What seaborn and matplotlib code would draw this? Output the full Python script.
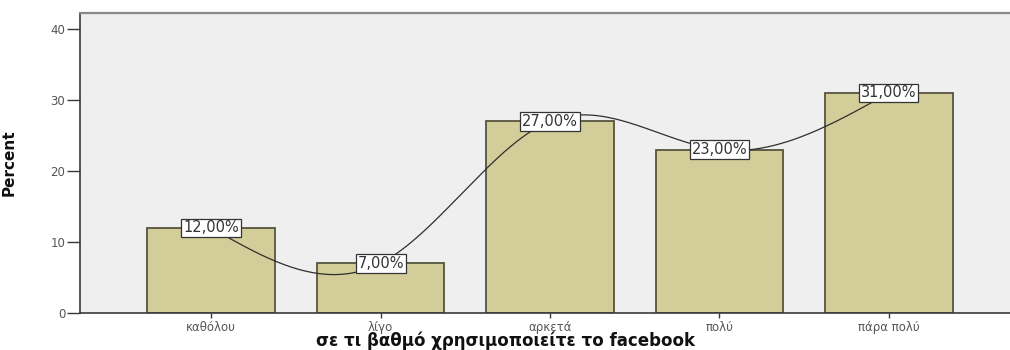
import numpy as np
import pandas as pd
import matplotlib
matplotlib.use("Agg")
import matplotlib.pyplot as plt
import seaborn as sns

categories = ["καθόλου", "λίγο", "αρκετά", "πολύ", "πάρα πολύ"]
percent = [12.0, 7.0, 27.0, 23.0, 31.0]
y_ticks = [0, 10, 20, 30, 40]
x_title = "σε τι βαθμό χρησιμοποιείτε το facebook"
y_title = "Percent"

df = pd.DataFrame({"category": categories, "percent": percent})

sns.set_style("white")
plt.rcParams["font.family"] = ["DejaVu Sans"]

W, H = 1010, 350
fig = plt.figure(figsize=(W / 100, H / 100), dpi=100)
left, right, top, bottom = 80, 1020, 13, 313
ax = fig.add_axes([left / W, (H - bottom) / H, (right - left) / W, (bottom - top) / H])
ax.set_facecolor("#efefef")

sns.barplot(data=df, x="category", y="percent", order=categories, ax=ax,
            color="#d3cd99", saturation=1, width=0.75,
            edgecolor="#55553f", linewidth=1.3, zorder=2)

ax.set_xlim(-0.773, 4.773)
ax.set_ylim(0, 42.25)
ax.set_yticks(y_ticks)
ax.set_yticklabels([str(t) for t in y_ticks])


def natural_spline(xs, ys, n=400):
    xs = np.asarray(xs, float)
    ys = np.asarray(ys, float)
    k = len(xs)
    h = np.diff(xs)
    A = np.zeros((k, k))
    b = np.zeros(k)
    A[0, 0] = A[-1, -1] = 1
    for i in range(1, k - 1):
        A[i, i - 1] = h[i - 1]
        A[i, i] = 2 * (h[i - 1] + h[i])
        A[i, i + 1] = h[i]
        b[i] = 3 * ((ys[i + 1] - ys[i]) / h[i] - (ys[i] - ys[i - 1]) / h[i - 1])
    c = np.linalg.solve(A, b)
    xx = np.linspace(xs[0], xs[-1], n)
    idx = np.clip(np.searchsorted(xs, xx) - 1, 0, k - 2)
    dx = xx - xs[idx]
    bcoef = (ys[1:] - ys[:-1]) / h - h * (2 * c[:-1] + c[1:]) / 3
    dcoef = (c[1:] - c[:-1]) / (3 * h)
    yy = ys[idx] + bcoef[idx] * dx + c[idx] * dx ** 2 + dcoef[idx] * dx ** 3
    return xx, yy


xs = np.arange(len(categories))
sx, sy = natural_spline(xs, percent)
ax.plot(sx, sy, color="#2f2f2f", lw=0.9, zorder=3)

for i, v in enumerate(percent):
    ax.text(i, v, f"{v:.2f}%".replace(".", ","), ha="center", va="center",
            fontsize=10.5, color="#333333", zorder=4,
            bbox=dict(boxstyle="square,pad=0.12", facecolor="white",
                      edgecolor="#333333", linewidth=0.9))

for s in ["left", "bottom"]:
    ax.spines[s].set_color("#3a3a3a")
    ax.spines[s].set_linewidth(1.2)
ax.spines["top"].set_color("#8a8a8a")
ax.spines["top"].set_linewidth(1.6)
ax.spines["right"].set_visible(False)

ax.tick_params(axis="y", direction="out", length=9.5, width=1.0, color="#3a3a3a",
               labelsize=8.5, labelcolor="#555555", pad=1, left=True)
ax.tick_params(axis="x", direction="out", length=3.5, width=1.0, color="#3a3a3a",
               labelsize=8.5, labelcolor="#555555", pad=2, bottom=True)

ax.set_xlabel(x_title, fontsize=12, fontweight="bold", color="#111111")
ax.xaxis.set_label_coords((506 - left) / (right - left), -0.062)
ax.set_ylabel(y_title, fontsize=11, fontweight="bold", color="#111111",
              family=["Liberation Sans Narrow", "DejaVu Sans"])
ax.yaxis.set_label_coords(-(80 - 17) / (right - left), 0.5)

fig.savefig("out.png", dpi=100)
